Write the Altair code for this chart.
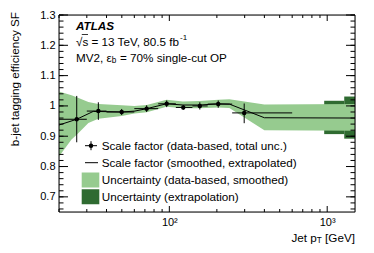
import altair as alt
import pandas as pd

# ---------------- data ----------------
bin_lo = [20, 30, 40, 60, 85, 110, 140, 175, 250]
bin_hi = [30, 40, 60, 85, 110, 140, 175, 250, 600]
pt_center = [25.9, 35.5, 49.9, 71.8, 96.2, 122.5, 156, 204, 298]
sf = [0.956, 0.983, 0.980, 0.991, 1.007, 0.995, 1.000, 1.006, 0.977]
sf_low = [0.880, 0.954, 0.970, 0.980, 0.996, 0.987, 0.988, 0.994, 0.943]
sf_high = [1.033, 1.012, 0.990, 1.002, 1.018, 1.003, 1.012, 1.018, 1.008]

line_pt = [20, 25.9, 33, 50, 60.5, 72, 96, 122, 156, 204, 240, 400, 1500]
line_sf = [0.937, 0.956, 0.982, 0.980, 0.983, 0.991, 1.007, 1.003, 1.003, 1.007, 1.006, 0.961, 0.960]

band_pt = [20, 24, 25.9, 30.7, 35.5, 50, 60, 72, 96, 122, 156, 204, 240, 400, 1500]
band_hi = [1.048, 1.035, 1.029, 1.013, 1.006, 1.002, 1.000, 1.003, 1.020, 1.015, 1.016, 1.020, 1.022, 1.005, 1.006]
band_lo = [0.833, 0.889, 0.905, 0.944, 0.958, 0.967, 0.975, 0.979, 0.997, 0.992, 0.992, 0.995, 0.993, 0.920, 0.918]

extr_lo_pt = [957, 1282]
extr_hi_pt = [1282, 1500]
extr_lo = [0.907, 0.892]
extr_hi = [1.017, 1.031]

y_major = [0.7, 0.8, 0.9, 1.0, 1.1, 1.2, 1.3]
y_minor = [round(0.66 + 0.02 * i, 2) for i in range(33)]
x_major = [100, 1000]
x_minor = [20, 30, 40, 50, 60, 70, 80, 90, 200, 300, 400, 500, 600, 700, 800, 900]

legend_labels = ["Scale factor (data-based, total unc.)",
                 "Scale factor (smoothed, extrapolated)",
                 "Uncertainty (data-based, smoothed)",
                 "Uncertainty (extrapolation)"]

LIGHT = "#96CB8F"
DARK = "#2F6B31"
FONT = "Liberation Sans"
FS = 11.7
W, H = 296, 197

xs = alt.Scale(type="log", domain=[20, 1500], nice=False)
ys = alt.Scale(domain=[0.65, 1.3], nice=False, zero=False)

AX = alt.Axis(values=x_major, labelExpr="datum.value == 100 ? '10²' : '10³'",
              ticks=False, domain=False, grid=False, title=None,
              labelFont=FONT, labelFontSize=11, labelColor="black",
              labelPadding=4, labelOverlap=False)
AY = alt.Axis(values=y_major, format="~g", ticks=False, domain=False,
              grid=False, title=None, labelFont=FONT, labelFontSize=11,
              labelColor="black", labelPadding=4, labelOverlap=False)


def X(f):
    return alt.X(f, scale=xs, axis=AX)


def Y(f):
    return alt.Y(f, scale=ys, axis=AY)


pts = pd.DataFrame({"pt": pt_center, "lo": bin_lo, "hi": bin_hi, "sf": sf,
                    "ylo": sf_low, "yhi": sf_high})
line_df = pd.DataFrame({"pt": line_pt, "sf": line_sf})
band_df = pd.DataFrame({"pt": band_pt, "hi": band_hi, "lo": band_lo})
extr_df = pd.DataFrame({"x1": extr_lo_pt, "x2": extr_hi_pt, "lo": extr_lo, "hi": extr_hi})

extr = alt.Chart(extr_df).mark_rect(color=DARK).encode(
    x=X("x1:Q"), x2="x2:Q", y=Y("lo:Q"), y2="hi:Q")

band = alt.Chart(band_df).mark_area(color=LIGHT, opacity=1).encode(
    x=X("pt:Q"), y=Y("lo:Q"), y2="hi:Q")

line = alt.Chart(line_df).mark_line(color="black", strokeWidth=1).encode(
    x=X("pt:Q"), y=Y("sf:Q"))

hbars = alt.Chart(pts).mark_rule(color="black", strokeWidth=1).encode(
    x=X("lo:Q"), x2="hi:Q", y=Y("sf:Q"))
vbars = alt.Chart(pts).mark_rule(color="black", strokeWidth=1).encode(
    x=X("pt:Q"), y=Y("ylo:Q"), y2="yhi:Q")
dots = alt.Chart(pts).mark_circle(color="black", size=20, opacity=1).encode(
    x=X("pt:Q"), y=Y("sf:Q"))


# ticks inside the frame
def yticks(vals, length):
    df = pd.DataFrame({"v": vals})
    left = alt.Chart(df).mark_rule(color="black", strokeWidth=1).encode(
        y=Y("v:Q"), x=alt.value(0), x2=alt.value(length))
    right = alt.Chart(df).mark_rule(color="black", strokeWidth=1).encode(
        y=Y("v:Q"), x=alt.value(W - length), x2=alt.value(W))
    return left + right


def xticks(vals, length):
    df = pd.DataFrame({"v": vals})
    bot = alt.Chart(df).mark_rule(color="black", strokeWidth=1).encode(
        x=X("v:Q"), y=alt.value(H - length), y2=alt.value(H))
    top = alt.Chart(df).mark_rule(color="black", strokeWidth=1).encode(
        x=X("v:Q"), y=alt.value(0), y2=alt.value(length))
    return bot + top


ticks = yticks(y_major, 9) + yticks(y_minor, 4.5) + xticks(x_major, 6) + xticks(x_minor, 3)

frame = alt.Chart(pd.DataFrame({"a": [0]})).mark_rect(fill=None, stroke="black", strokeWidth=1).encode(
    x=alt.value(0), x2=alt.value(W), y=alt.value(0), y2=alt.value(H))


def txt(t, x, y, size=FS, align="left", baseline="middle", **kw):
    return alt.Chart(pd.DataFrame({"a": [0]})).mark_text(
        text=t, font=FONT, fontSize=size, align=align, baseline=baseline, color="black", **kw
    ).encode(x=alt.value(x), y=alt.value(y))


# annotations
ann = (
    txt("ATLAS", 17, 10.5, fontWeight="bold", fontStyle="italic")
    + txt("√s = 13 TeV, 80.5 fb", 17, 26.5)
    + txt("-1", 121, 22.5, size=8)
    + txt("MV2, ε", 17, 42.5)
    + txt("b", 52.8, 46, size=8.2)
    + txt("= 70% single-cut OP", 61, 42.5)
)
overbar = alt.Chart(pd.DataFrame({"a": [0]})).mark_rule(color="black", strokeWidth=0.8).encode(
    x=alt.value(22.8), x2=alt.value(29), y=alt.value(19.5))

# legend
leg_y = [130.7, 147.7, 165, 181.7]
legend = (
    alt.Chart(pd.DataFrame({"a": [0]})).mark_rule(color="black").encode(
        x=alt.value(26), x2=alt.value(38), y=alt.value(leg_y[0]))
    + alt.Chart(pd.DataFrame({"a": [0]})).mark_rule(color="black").encode(
        x=alt.value(32), y=alt.value(leg_y[0] - 4.5), y2=alt.value(leg_y[0] + 4.5))
    + alt.Chart(pd.DataFrame({"a": [0]})).mark_circle(color="black", size=20, opacity=1).encode(
        x=alt.value(32), y=alt.value(leg_y[0]))
    + alt.Chart(pd.DataFrame({"a": [0]})).mark_rule(color="black").encode(
        x=alt.value(26), x2=alt.value(39), y=alt.value(leg_y[1]))
    + alt.Chart(pd.DataFrame({"a": [0]})).mark_rect(color=LIGHT).encode(
        x=alt.value(22.7), x2=alt.value(40.3), y=alt.value(leg_y[2] - 7.5), y2=alt.value(leg_y[2] + 7.5))
    + alt.Chart(pd.DataFrame({"a": [0]})).mark_rect(color=DARK).encode(
        x=alt.value(22.7), x2=alt.value(40.3), y=alt.value(leg_y[3] - 7.5), y2=alt.value(leg_y[3] + 7.5))
)
for lab, yy in zip(legend_labels, leg_y):
    legend = legend + txt(lab, 42.7, yy)

# axis titles
titles = (
    txt("[GeV]", W, 222.5, align="right")
    + txt("T", W - 33.2, 226, size=8.2, align="right")
    + txt("Jet p", W - 38.2, 222.5, align="right")
    + txt("b-jet tagging efficiency SF", -44, -3, align="right", angle=270)
)

chart = alt.layer(
    extr, band, line, hbars, vbars, dots, ticks, frame, ann, overbar, legend, titles
).properties(
    width=W, height=H,
    autosize=alt.AutoSizeParams(type="none"),
    padding={"left": 51, "top": 7, "right": 11, "bottom": 33},
).configure_view(stroke=None).configure(background="white")

chart.save("out.html", embed_options={"renderer": "svg", "actions": False})
